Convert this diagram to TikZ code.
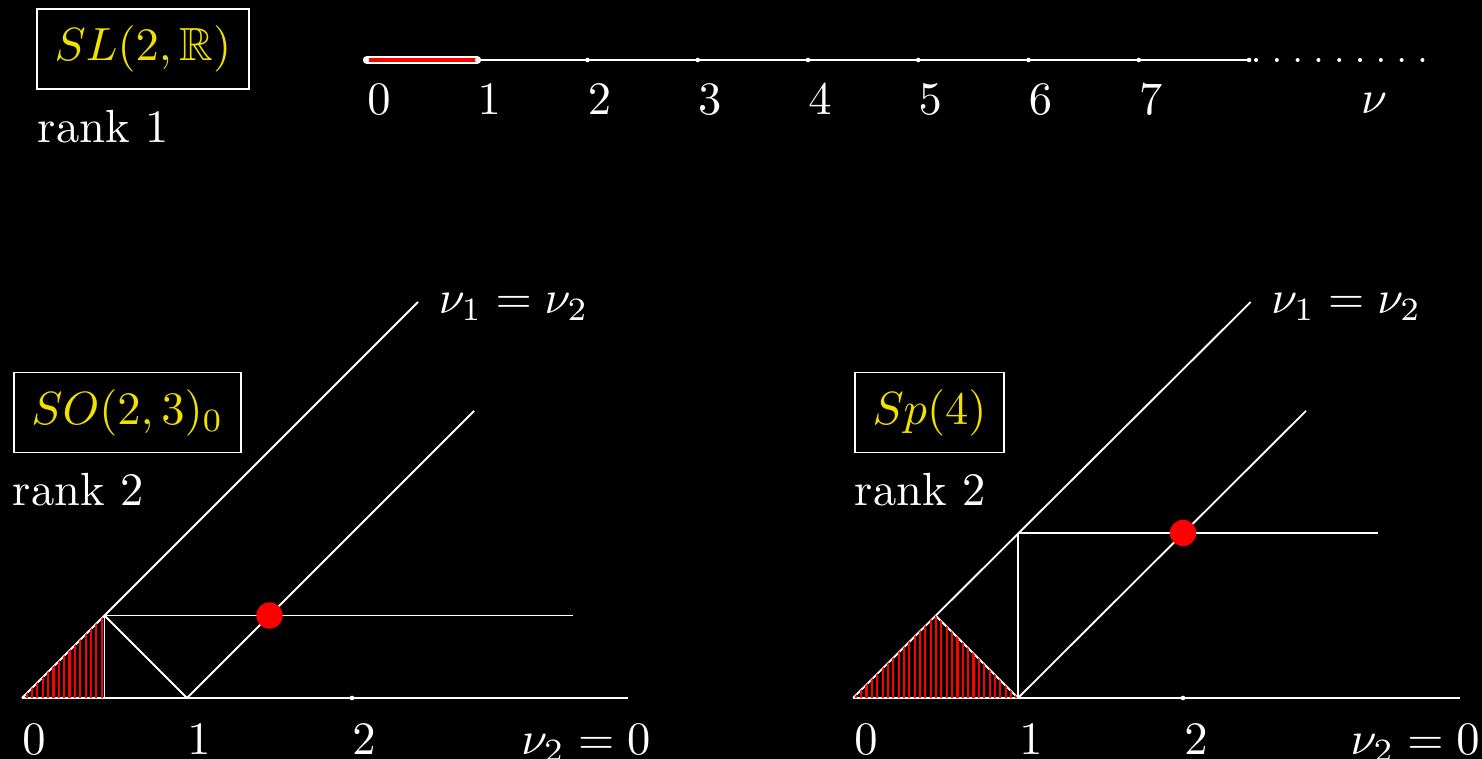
\documentclass[tikz,border=0pt]{standalone}
\usepackage{amssymb}
\usepackage{xcolor}
\usetikzlibrary{patterns.meta}

\definecolor{grpyellow}{RGB}{240,225,0}

\tikzset{
  grpbox/.style={draw=white, line width=0.4pt, text=grpyellow, inner xsep=3.8pt, inner ysep=3.6pt},
  lbl/.style={text=white, inner sep=0pt, anchor=base},
  lblw/.style={text=white, inner sep=0pt, anchor=base west},
  hatch/.style={pattern={Lines[angle=90,distance=1.15pt,line width=0.45pt]}, pattern color=red},
  wl/.style={draw=white, line width=0.4pt},
}

\begin{document}
\begin{tikzpicture}[x=0.215pt,y=0.215pt,yscale=-1,xscale=1]
\path[use as bounding box, fill=black] (0,0) rectangle (1482,759);

% rank 1 ---------------------------------------------------------------
% Text Node
\node[grpbox] (slname) at (143,49) {$SL(2,\mathbb{R})$};
% Text Node
\node[lblw] (slrank) at (37,143) {rank 1};

%Straight Lines
\coordinate (nu0) at (367,60);
\coordinate (nu1) at (477,60);
\coordinate (nuend) at (1249,60);
\draw[wl] (nu0) -- (nuend);
\draw[white, line width=0.4pt, double=red, double distance=1pt, line cap=round] (nu0) -- (nu1);
\foreach \k in {0,...,8}
  \fill[white] (367+110.25*\k,60) circle (2.3);
\foreach \k in {0,...,7}
  \node[lbl] (tick\k) at (379+110.25*\k,115) {$\k$};
%Dots
\foreach \k in {0,...,8}
  \fill[white] (1256+20.8*\k,60) circle (2);
% Text Node
\node[lbl] (nulbl) at (1374,114) {$\nu$};

% rank 2, SO(2,3)_0 -----------------------------------------------------
% Text Node
\node[grpbox] (soname) at (127.5,412.5) {$SO(2,3)_0$};
% Text Node
\node[lblw] (sorank) at (12,506) {rank 2};

\begin{scope}[shift={(22,698)}, x=35.475pt, y=-35.475pt]
  \coordinate (a0) at (0,0);
  \coordinate (a1) at (1,0);
  \coordinate (ah) at (0.5,0.5);
  \coordinate (ab) at (0.5,0);
  %Straight Lines
  \draw[wl] (a0) -- (3.67,0);
  \draw[wl] (a0) -- (2.4,2.4);
  \draw[wl] (a1) -- (2.74,1.74);
  \draw[wl] (ah) -- (3.34,0.5);
  \draw[wl] (ah) -- (ab);
  \draw[wl] (ah) -- (a1);
  %Hatched region
  \fill[hatch] (a0) -- (ah) -- (ab) -- cycle;
  \fill[white] (2,0) circle (0.014);
  \fill[red] (1.5,0.5) circle (0.08);
  % Text Node
  \foreach \k in {0,1,2}
    \node[lbl] (aa\k) at (\k+0.073,-0.34) {$\k$};
  \node[lblw] (adiag) at (2.52,2.33) {$\nu_1=\nu_2$};
  \node[lblw] (aaxis) at (3.02,-0.345) {$\nu_2=0$};
\end{scope}

% rank 2, Sp(4) ---------------------------------------------------------
% Text Node
\node[grpbox] (spname) at (929.5,412.5) {$Sp(4)$};
% Text Node
\node[lblw] (sprank) at (854,506) {rank 2};

\begin{scope}[shift={(853,698)}, x=35.475pt, y=-35.475pt]
  \coordinate (b0) at (0,0);
  \coordinate (b1) at (1,0);
  \coordinate (bh) at (0.5,0.5);
  \coordinate (bc) at (1,1);
  %Straight Lines
  \draw[wl] (b0) -- (3.68,0);
  \draw[wl] (b0) -- (2.41,2.4);
  \draw[wl] (b1) -- (2.745,1.74);
  \draw[wl] (b1) -- (bc);
  \draw[wl] (bc) -- (3.18,1);
  \draw[wl] (bh) -- (b1);
  %Hatched region
  \fill[hatch] (b0) -- (bh) -- (b1) -- cycle;
  \fill[white] (2,0) circle (0.014);
  \fill[red] (2,1) circle (0.08);
  % Text Node
  \foreach \k in {0,1,2}
    \node[lbl] (bb\k) at (\k+0.078,-0.34) {$\k$};
  \node[lblw] (bdiag) at (2.53,2.33) {$\nu_1=\nu_2$};
  \node[lblw] (baxis) at (3.01,-0.345) {$\nu_2=0$};
\end{scope}

\end{tikzpicture}
\end{document}
